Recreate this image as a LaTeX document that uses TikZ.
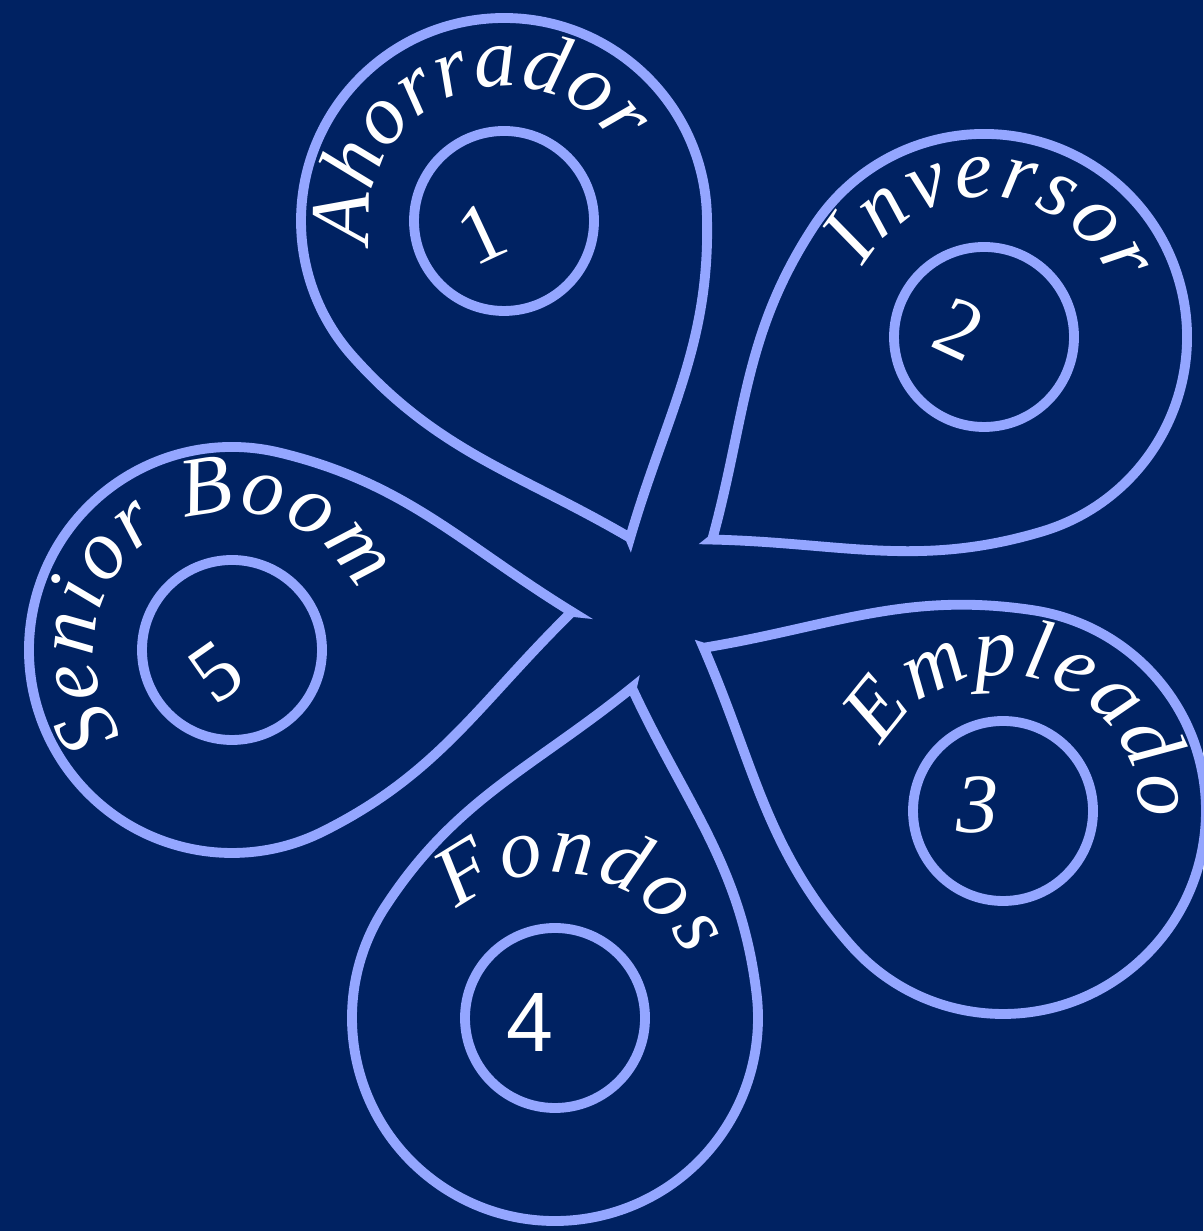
\documentclass[tikz,border=0pt]{standalone}
\usepackage{fontspec}
\usepackage{tikz}
\usetikzlibrary{decorations.text}

\newfontfamily\labelfont{Liberation Serif}
\newfontfamily\numsans{Liberation Sans}

\definecolor{bgblue}{RGB}{0,34,98}
\definecolor{petalblue}{RGB}{148,166,255}

\begin{document}
\begin{tikzpicture}[
    petal/.style={draw=petalblue, line width=2.8pt, line join=miter},
    ring/.style={circle, draw=petalblue, line width=2.8pt, minimum size=1.80cm, inner sep=0pt},
    num/.style={text=white, font=\labelfont\fontsize{24}{24}\selectfont},
    arclabel/.style={decorate, decoration={text along path, text color=white,
      text align=fit to path, text={|\labelfont\itshape\fontsize{24}{24}\selectfont|#1}}}
  ]
  \fill[bgblue] (0,0) rectangle (12.03,12.31);
  \useasboundingbox (0,0) rectangle (12.03,12.31);

  % Ahorrador
  \begin{scope}[shift={(5.04,10.10)}, rotate=-68.3]
    \draw[petal] (3.41,0) to[out=142,in=-20] (70:2.03) arc[start angle=70,end angle=290,radius=2.03] to[out=20,in=218] cycle;
  \end{scope}
  \node[ring] (ring1) at (5.04,10.10) {};
  \node[num, rotate=25] (num1) at (4.82,9.98) {1};
  \path[arclabel=Ahorrador] ([shift={(190:1.35)}]ring1.center) arc[start angle=190, end angle=33, radius=1.35];

  % Inversor
  \begin{scope}[shift={(9.84,8.94)}, rotate=216.7]
    \draw[petal] (3.39,0) to[out=142,in=-20] (70:2.03) arc[start angle=70,end angle=290,radius=2.03] to[out=20,in=218] cycle;
  \end{scope}
  \node[ring] (ring2) at (9.84,8.94) {};
  \node[num, rotate=-25] (num2) at (9.59,9.02) {2};
  \path[arclabel=Inversor] ([shift={(150:1.40)}]ring2.center) arc[start angle=150, end angle=22, radius=1.40];

  % Empleado
  \begin{scope}[shift={(10.03,4.20)}, rotate=151.4]
    \draw[petal] (3.41,0) to[out=142,in=-20] (70:2.03) arc[start angle=70,end angle=290,radius=2.03] to[out=20,in=218] cycle;
  \end{scope}
  \node[ring] (ring3) at (10.03,4.20) {};
  \node[num, font=\labelfont\itshape\fontsize{24}{24}\selectfont] (num3) at (9.78,4.26) {3};
  \path[arclabel=Empleado] ([shift={(152:1.36)}]ring3.center) arc[start angle=152, end angle=-3, radius=1.36];

  % Fondos
  \begin{scope}[shift={(5.55,2.13)}, rotate=76.9]
    \draw[petal] (3.39,0) to[out=142,in=-20] (70:2.03) arc[start angle=70,end angle=290,radius=2.03] to[out=20,in=218] cycle;
  \end{scope}
  \node[ring] (ring4) at (5.55,2.13) {};
  \node[num, font=\numsans\fontsize{24}{24}\selectfont] (num4) at (5.30,2.09) {4};
  \path[arclabel=Fondos] ([shift={(132:1.45)}]ring4.center) arc[start angle=132, end angle=25, radius=1.45];

  % Senior Boom
  \begin{scope}[shift={(2.32,5.81)}, rotate=6.4]
    \draw[petal] (3.42,0) to[out=142,in=-20] (70:2.03) arc[start angle=70,end angle=290,radius=2.03] to[out=20,in=218] cycle;
  \end{scope}
  \node[ring] (ring5) at (2.32,5.81) {};
  \node[num, rotate=35] (num5) at (2.16,5.59) {5};
  \path[arclabel=Senior Boom] ([shift={(218:1.38)}]ring5.center) arc[start angle=218, end angle=25, radius=1.38];
\end{tikzpicture}
\end{document}
